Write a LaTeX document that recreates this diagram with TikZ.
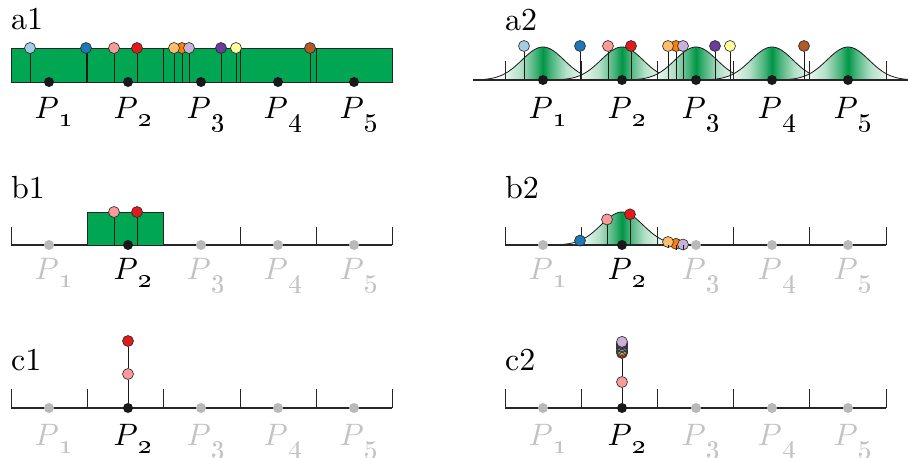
\documentclass[tikz,border=0pt]{standalone}
\usetikzlibrary{calc}
\definecolor{pLblue}{HTML}{A6CEE3}
\definecolor{pBlue}{HTML}{1F78B4}
\definecolor{pPink}{HTML}{FB9A99}
\definecolor{pRed}{HTML}{E31A1C}
\definecolor{pLorange}{HTML}{FDBF6F}
\definecolor{pOrange}{HTML}{FF7F00}
\definecolor{pLav}{HTML}{CAB2D6}
\definecolor{pPurple}{HTML}{6A3D9A}
\definecolor{pYellow}{HTML}{FFFF99}
\definecolor{pBrown}{HTML}{B15928}
\definecolor{boxgreen}{RGB}{0,166,81}
\definecolor{gaussgreen}{RGB}{0,150,70}
\definecolor{dotgrey}{RGB}{185,185,185}
\definecolor{labgrey}{RGB}{195,195,195}
\pgfdeclarehorizontalshading{bump}{100bp}{color(0bp)=(white); color(34bp)=(white);
  color(42bp)=(gaussgreen!30); color(47bp)=(gaussgreen!70); color(50bp)=(gaussgreen);
  color(53bp)=(gaussgreen!70); color(58bp)=(gaussgreen!30); color(66bp)=(white); color(100bp)=(white)}
\newcommand{\Psub}[1]{\scalebox{3.1}{$P$}\kern1pt\raisebox{-8pt}{\scalebox{2.7}{\oldstylenums{#1}}}}
\newcommand{\pname}[1]{\scalebox{3.2}{#1}}
\tikzset{
  ball/.style={circle,draw=black!85,fill=#1,line width=0.6pt,minimum size=11pt,inner sep=0pt},
  pdot/.style={circle,fill=black!90,minimum size=10pt,inner sep=0pt},
  gdot/.style={circle,fill=dotgrey,minimum size=10pt,inner sep=0pt},
  axisline/.style={line width=1.3pt,black!85},
  tickline/.style={line width=0.8pt,black!85},
  stem/.style={line width=0.7pt,black!90},
  gbox/.style={fill=boxgreen,draw=black!85,line width=0.9pt},
  curve/.style={line width=0.8pt,black!90},
  plab/.style={anchor=base,inner sep=0pt},
  panel/.style={anchor=base west,inner sep=0pt},
}
\begin{document}
\begin{tikzpicture}[x=1pt,y=-1pt]
\useasboundingbox (0,0) rectangle (908,458);

%a1 ------------------------------------------------
\node[panel] (la1) at (11,29) {\pname{a1}};
\draw[gbox] (11,48) rectangle (392,82);
\foreach \x in {87,163,240,316} \draw[stem] (\x,48) -- (\x,82);
\coordinate (a1b) at (0,82);
\foreach \x/\c [count=\i] in {30/pLblue,86/pBlue,114/pPink,137/pRed,182/pOrange,174/pLorange,189/pLav,221/pPurple,236/pYellow,310/pBrown}{
  \node[ball=\c] (a1c\i) at (\x,48) {};
  \draw[stem] (a1c\i) -- (a1c\i |- a1b);
}
\foreach \x [count=\i] in {49,128,201,278,354}{
  \node[pdot] (a1p\i) at (\x,82) {};
  \node[plab] (a1l\i) at (\x+5,118) {\Psub{\i}};
}

%a2 ------------------------------------------------
\node[panel] (la2) at (505,30) {\pname{a2}};
\begin{scope}
  \clip (473,0) rectangle (908,90);
  \foreach \c in {543,622,696,772,848}{
    \shade[shading=bump]
      plot[domain=-70:70,samples=60] ({\c+\x},{80-33*exp(-\x*\x/882)}) -- cycle;
    \draw[curve] plot[domain=-70:70,samples=60] ({\c+\x},{80-33*exp(-\x*\x/882)});
  }
\end{scope}
\foreach \x in {505,581,657,733,809,886} \draw[tickline] (\x,61) -- (\x,80);
\coordinate (a2b) at (0,80);
\foreach \x/\c [count=\i] in {524/pLblue,580/pBlue,608/pPink,631/pRed,676/pOrange,668/pLorange,683/pLav,715/pPurple,730/pYellow,804/pBrown}{
  \node[ball=\c] (a2c\i) at (\x,46) {};
  \draw[stem] (a2c\i) -- (a2c\i |- a2b);
}
\draw[axisline,line width=1.8pt] (473,80) -- (908,80);
\foreach \x [count=\i] in {543,622,696,772,848}{
  \node[pdot] (a2p\i) at (\x,80) {};
  \node[plab] (a2l\i) at (\x+5,118) {\Psub{\i}};
}

%b1 ------------------------------------------------
\node[panel] (lb1) at (11,198) {\pname{b1}};
\foreach \x in {11,87,163,240,316,392} \draw[tickline] (\x,227) -- (\x,245);
\draw[axisline] (11,245) -- (392,245);
\draw[gbox] (87,212) rectangle (163,245);
\coordinate (b1b) at (0,245);
\foreach \x/\c [count=\i] in {114/pPink,137/pRed}{
  \node[ball=\c] (b1c\i) at (\x,212) {};
  \draw[stem] (b1c\i) -- (b1c\i |- b1b);
}
\foreach \x [count=\i] in {49,128,201,278,354}{
  \ifnum\i=2
    \node[pdot] (b1p\i) at (\x,245) {};
    \node[plab] (b1l\i) at (\x+5,279) {\Psub{\i}};
  \else
    \node[gdot] (b1p\i) at (\x,245) {};
    \node[plab,text=labgrey] (b1l\i) at (\x+5,279) {\Psub{\i}};
  \fi
}

%b2 ------------------------------------------------
\node[panel] (lb2) at (505,198) {\pname{b2}};
\shade[shading=bump]
  plot[domain=-70:70,samples=60] ({622+\x},{245-33*exp(-\x*\x/882)}) -- cycle;
\draw[curve] plot[domain=-70:70,samples=60] ({622+\x},{245-33*exp(-\x*\x/882)});
\foreach \x in {505,581,657,733,809,886} \draw[tickline] (\x,227) -- (\x,245);
\draw[axisline] (505,245) -- (886,245);
\coordinate (b2b) at (0,245);
\foreach \x/\c [count=\i] in {580/pBlue,607/pPink,630/pRed,676/pOrange,668/pLorange,683/pLav}{
  \pgfmathsetmacro\yb{245-33*exp(-(\x-622)*(\x-622)/882)}
  \node[ball=\c] (b2c\i) at (\x,\yb) {};
  \draw[stem] (b2c\i) -- (b2c\i |- b2b);
}
\foreach \x [count=\i] in {543,622,696,772,848}{
  \ifnum\i=2
    \node[pdot] (b2p\i) at (\x,245) {};
    \node[plab] (b2l\i) at (\x+5,279) {\Psub{\i}};
  \else
    \node[gdot] (b2p\i) at (\x,245) {};
    \node[plab,text=labgrey] (b2l\i) at (\x+5,279) {\Psub{\i}};
  \fi
}

%c1 ------------------------------------------------
\node[panel] (lc1) at (11,370) {\pname{c1}};
\foreach \x in {11,87,163,240,316,392} \draw[tickline] (\x,389) -- (\x,408);
\draw[axisline] (11,408) -- (392,408);
\foreach \x [count=\i] in {49,128,201,278,354}{
  \ifnum\i=2
    \node[pdot] (c1p\i) at (\x,408) {};
    \node[plab] (c1l\i) at (\x+5,445) {\Psub{\i}};
  \else
    \node[gdot] (c1p\i) at (\x,408) {};
    \node[plab,text=labgrey] (c1l\i) at (\x+5,445) {\Psub{\i}};
  \fi
}
\node[ball=pPink] (c1pink) at (128,374) {};
\node[ball=pRed] (c1red) at (128,341) {};
\draw[stem] (c1p2) -- (c1pink);
\draw[stem] (c1pink) -- (c1red);

%c2 ------------------------------------------------
\node[panel] (lc2) at (505,370) {\pname{c2}};
\foreach \x in {505,581,657,733,809,886} \draw[tickline] (\x,389) -- (\x,408);
\draw[axisline] (505,408) -- (886,408);
\foreach \x [count=\i] in {543,622,696,772,848}{
  \ifnum\i=2
    \node[pdot] (c2p\i) at (\x,408) {};
    \node[plab] (c2l\i) at (\x+5,445) {\Psub{\i}};
  \else
    \node[gdot] (c2p\i) at (\x,408) {};
    \node[plab,text=labgrey] (c2l\i) at (\x+5,445) {\Psub{\i}};
  \fi
}
\node[ball=pPink] (c2pink) at (622,382) {};
\foreach \c [count=\i] in {pRed,pOrange,pLorange,pYellow,pBlue,pLblue,pBrown,pPurple,pLav}
  \node[ball=\c] (c2s\i) at (622,{353-(\i-1)*1.4}) {};
\draw[stem] (c2p2) -- (c2pink);
\draw[stem] (c2pink) -- (c2s1);
\end{tikzpicture}
\end{document}
